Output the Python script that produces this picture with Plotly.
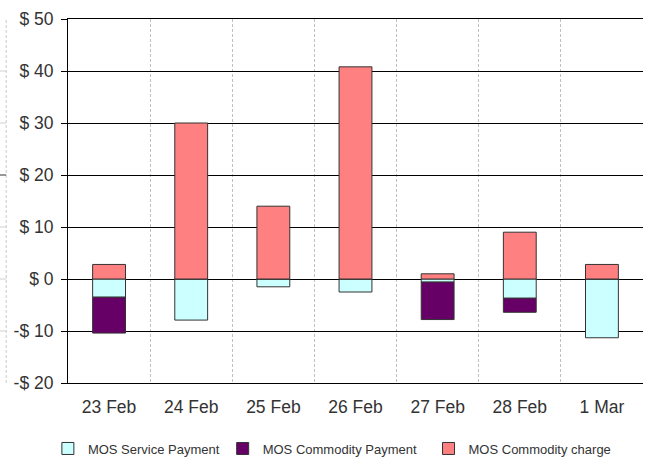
import plotly.graph_objects as go

dates = ["23 Feb", "24 Feb", "25 Feb", "26 Feb", "27 Feb", "28 Feb", "1 Mar"]
service_payment = [-3.5, -7.9, -1.5, -2.5, -0.6, -3.7, -11.3]
commodity_payment = [-6.9, 0, 0, 0, -7.2, -2.7, 0]
commodity_charge = [2.8, 30.0, 14.0, 40.8, 1.0, 9.0, 2.8]
tick_vals = [-20, -10, 0, 10, 20, 30, 40, 50]
tick_text = ["-$ 20", "-$ 10", "$ 0", "$ 10", "$ 20", "$ 30", "$ 40", "$ 50"]

FONT = "Liberation Sans, Arial, sans-serif"
line = dict(color="#333333", width=1)
fig = go.Figure()
fig.add_trace(go.Bar(x=dates, y=service_payment, name="MOS Service Payment",
                     marker=dict(color="#CCFFFF", line=line), legend="legend"))
fig.add_trace(go.Bar(x=dates, y=commodity_payment, name="MOS Commodity Payment",
                     marker=dict(color="#660066", line=line), legend="legend2"))
fig.add_trace(go.Bar(x=dates, y=commodity_charge, name="MOS Commodity charge",
                     marker=dict(color="#FF8080", line=line), legend="legend3"))

# faint remnant of a neighbouring chart at the far left edge
fig.add_shape(type="line", xref="paper", yref="y", x0=-0.1075, x1=-0.1075, y0=-20, y1=50,
              line=dict(color="#C8C8C8", width=1, dash="3px,2px"))
for v in [40, 30, 10, 0, -10]:
    fig.add_shape(type="line", xref="paper", yref="y", x0=-0.12, x1=-0.1075, y0=v, y1=v,
                  line=dict(color="#D0D0D0", width=1))
fig.add_shape(type="line", xref="paper", yref="y", x0=-0.12, x1=-0.1075, y0=20, y1=20,
              line=dict(color="#333333", width=1))

leg_common = dict(orientation="h", yanchor="middle", y=-0.18, xanchor="left",
                  font=dict(size=13, family=FONT, color="#333333"),
                  bgcolor="rgba(0,0,0,0)", itemwidth=30)
fig.update_layout(
    width=645, height=464,
    margin=dict(l=68, r=2, t=19, b=81, autoexpand=False),
    paper_bgcolor="white", plot_bgcolor="white",
    barmode="relative", bargap=0.6,
    font=dict(family=FONT, color="#333333"),
    showlegend=True,
    legend=dict(leg_common, x=-0.035),
    legend2=dict(leg_common, x=0.269),
    legend3=dict(leg_common, x=0.627),
    xaxis=dict(type="category", tickson="boundaries", showgrid=True,
               gridcolor="#C0C0C0", griddash="3px,2px", gridwidth=1,
               ticks="", tickfont=dict(size=17.5), automargin=False,
               showline=True, mirror=True, linecolor="#000000", linewidth=1,
               ticklabelstandoff=8),
    yaxis=dict(range=[-20, 50], tickvals=tick_vals, ticktext=tick_text,
               showgrid=True, gridcolor="#000000", gridwidth=1,
               zeroline=True, zerolinecolor="#000000", zerolinewidth=1,
               showline=True, linecolor="#000000", linewidth=1, automargin=False,
               ticks="outside", ticklen=6, tickcolor="#000000",
               tickfont=dict(size=17.5), ticklabelstandoff=4),
)
fig.write_html("out.html", config={"displayModeBar": False},
               post_script="document.body.style.margin='0';")
